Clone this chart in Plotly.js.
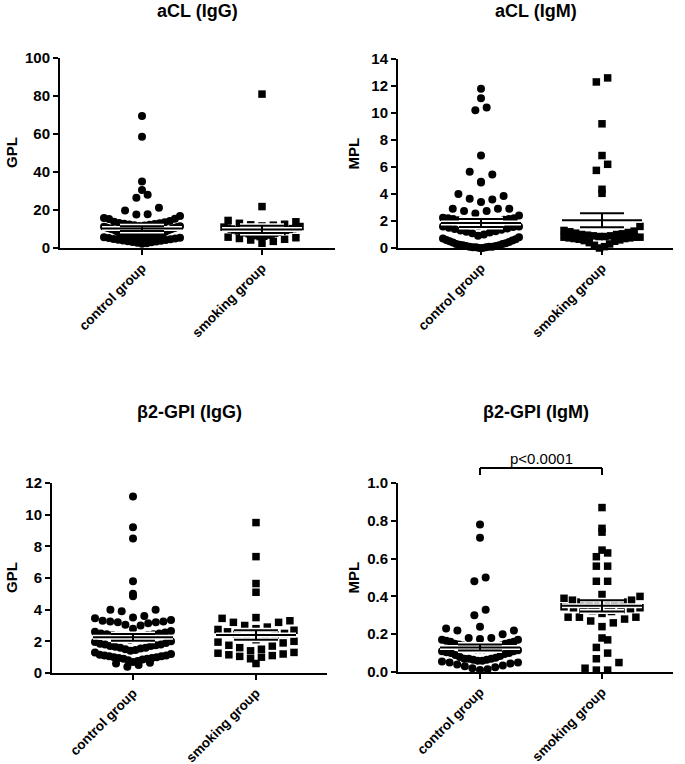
<!DOCTYPE html>
<html>
<head>
<meta charset="utf-8">
<script src="https://cdn.plot.ly/plotly-3.0.1.min.js"></script>
<style>html,body{margin:0;padding:0;background:#fff;}#chart{width:685px;height:764px;}</style>
</head>
<body>
<div id="chart"></div>
<script>
// ---------------- DATA ----------------
const categories = ['control group', 'smoking group'];
const panelTitles = ['aCL (IgG)', 'aCL (IgM)', 'β2-GPI (IgG)', 'β2-GPI (IgM)'];
const unitLabels = ['GPL', 'MPL', 'GPL', 'MPL'];

const aclIgG_control = [69.5, 58.5, 35.0, 30.5, 28.0, 26.5, 21.2, 19.8, 17.8, 17.6, 16.8, 15.8, 15.4, 15.2,
  14.2, 13.8, 13.5, 13.2, 13.0, 12.8, 12.6, 12.4, 12.2, 12.0, 11.9, 11.6, 11.4, 11.2, 11.0, 10.8, 10.6, 10.4,
  10.2, 10.0, 9.8, 9.6, 9.4, 9.0, 8.6, 8.2, 7.8, 7.6, 7.4, 7.2, 7.0, 7.0, 6.8, 6.8, 6.6, 6.6, 6.4, 6.4, 6.2,
  6.2, 6.0, 6.0, 5.8, 5.8, 5.6, 5.4, 5.2, 5.0, 4.8, 4.6, 4.4, 4.2, 4.0, 3.8, 3.6, 3.4, 3.2, 3.0, 2.8, 2.5, 2.2];
const aclIgG_smoking = [81.0, 21.8, 14.5, 13.8, 13.0, 12.5, 12.2, 12.0, 11.6, 11.3, 11.0, 10.8, 10.5, 10.2,
  10.0, 9.8, 9.5, 9.3, 9.0, 8.8, 8.5, 8.3, 8.0, 7.8, 7.5, 7.3, 7.0, 6.8, 6.5, 6.2, 6.0, 5.7, 5.4, 5.0, 4.6,
  4.2, 3.5, 2.5];
const aclIgG_mean = [10.2, 9.8];
const aclIgG_sem = [1.3, 1.9];
const aclIgG_ticks = [0, 20, 40, 60, 80, 100];

const aclIgM_control = [11.8, 11.1, 10.4, 10.2, 6.85, 5.65, 5.45, 4.9, 4.85, 4.0, 3.85, 3.65, 3.6, 3.4, 2.9,
  2.9, 2.9, 2.75, 2.75, 2.55, 2.4, 2.25, 2.2, 2.2, 2.15, 2.15, 2.1, 2.05, 2.0, 1.95, 1.9, 1.85, 1.8, 1.75, 1.7,
  1.65, 1.6, 1.6, 1.55, 1.5, 1.45, 1.4, 1.35, 1.3, 1.25, 1.2, 1.15, 1.1, 1.0, 0.9, 0.8, 0.7, 0.65, 0.6, 0.55,
  0.5, 0.45, 0.4, 0.35, 0.3, 0.3, 0.25, 0.2, 0.2, 0.15, 0.15, 0.1, 0.1, 0.1, 0.05, 0.05, 0.05, 0.0, 0.0];
const aclIgM_smoking = [12.6, 12.3, 9.2, 6.85, 6.2, 5.75, 4.35, 4.05, 1.6, 1.3, 1.25, 1.2, 1.15, 1.1, 1.05,
  1.0, 1.0, 0.95, 0.9, 0.9, 0.85, 0.85, 0.8, 0.8, 0.8, 0.75, 0.75, 0.7, 0.7, 0.65, 0.6, 0.55, 0.5, 0.4, 0.3,
  0.2, 0.1, 0.0];
const aclIgM_mean = [1.85, 2.05];
const aclIgM_sem = [0.3, 0.52];
const aclIgM_ticks = [0, 2, 4, 6, 8, 10, 12, 14];

const b2IgG_control = [11.15, 9.2, 8.5, 5.8, 5.0, 4.85, 4.0, 4.0, 3.9, 3.6, 3.5, 3.45, 3.35, 3.3, 3.25, 3.25,
  3.2, 3.2, 3.15, 3.05, 3.0, 2.8, 2.65, 2.6, 2.55, 2.5, 2.5, 2.45, 2.45, 2.4, 2.4, 2.35, 2.3, 2.3, 2.2, 2.1,
  2.0, 1.95, 1.9, 1.85, 1.8, 1.8, 1.75, 1.7, 1.7, 1.65, 1.6, 1.6, 1.55, 1.5, 1.45, 1.4, 1.3, 1.2, 1.15, 1.1,
  1.1, 1.05, 1.05, 1.0, 1.0, 0.95, 0.95, 0.9, 0.9, 0.85, 0.8, 0.75, 0.7, 0.65, 0.6, 0.5, 0.4];
const b2IgG_smoking = [9.5, 7.35, 5.65, 5.1, 3.5, 3.45, 3.3, 3.2, 3.2, 3.0, 2.9, 2.8, 2.75, 2.7, 2.6, 2.5,
  2.45, 2.4, 2.3, 2.2, 2.1, 2.0, 1.95, 1.9, 1.75, 1.7, 1.6, 1.5, 1.4, 1.3, 1.25, 1.2, 1.15, 1.1, 1.05, 1.0,
  0.9, 0.6];
const b2IgG_mean = [2.25, 2.4];
const b2IgG_sem = [0.22, 0.3];
const b2IgG_ticks = [0, 2, 4, 6, 8, 10, 12];

const b2IgM_control = [0.78, 0.71, 0.50, 0.48, 0.33, 0.30, 0.24, 0.23, 0.22, 0.22, 0.20, 0.18, 0.18, 0.175,
  0.17, 0.17, 0.165, 0.16, 0.16, 0.155, 0.15, 0.15, 0.145, 0.14, 0.14, 0.135, 0.13, 0.13, 0.13, 0.125, 0.12,
  0.12, 0.12, 0.115, 0.11, 0.11, 0.105, 0.10, 0.10, 0.095, 0.09, 0.085, 0.08, 0.075, 0.07, 0.07, 0.07, 0.065,
  0.065, 0.06, 0.06, 0.055, 0.05, 0.05, 0.045, 0.04, 0.035, 0.03, 0.025, 0.02, 0.015, 0.01];
const b2IgM_smoking = [0.87, 0.76, 0.74, 0.645, 0.63, 0.61, 0.56, 0.56, 0.48, 0.48, 0.41, 0.40, 0.39, 0.38,
  0.38, 0.37, 0.37, 0.36, 0.355, 0.35, 0.35, 0.345, 0.34, 0.34, 0.335, 0.33, 0.33, 0.325, 0.32, 0.31, 0.29,
  0.29, 0.29, 0.28, 0.27, 0.26, 0.24, 0.18, 0.17, 0.13, 0.10, 0.07, 0.05, 0.02, 0.01, 0.01];
const b2IgM_mean = [0.13, 0.35];
const b2IgM_sem = [0.016, 0.03];
const b2IgM_ticks = [0, 0.2, 0.4, 0.6, 0.8, 1.0];

const pValueText = 'p<0.0001';

// ---------------- LAYOUT GEOMETRY (pixels) ----------------
const W = 685, H = 764;
const FONT = 'Liberation Sans, Arial, Helvetica, sans-serif';
const panels = [
  {ctrl: aclIgG_control, smk: aclIgG_smoking, mean: aclIgG_mean, sem: aclIgG_sem, ticks: aclIgG_ticks, fmt: '',
   px: [60, 335], py: [58, 248], cx: 142, sx: 262, ymax: 100, titleY: 11},
  {ctrl: aclIgM_control, smk: aclIgM_smoking, mean: aclIgM_mean, sem: aclIgM_sem, ticks: aclIgM_ticks, fmt: '',
   px: [398, 673], py: [59, 248], cx: 481, sx: 602, ymax: 14, titleY: 11},
  {ctrl: b2IgG_control, smk: b2IgG_smoking, mean: b2IgG_mean, sem: b2IgG_sem, ticks: b2IgG_ticks, fmt: '',
   px: [52, 327], py: [483, 673], cx: 133, sx: 256, ymax: 12, titleY: 412},
  {ctrl: b2IgM_control, smk: b2IgM_smoking, mean: b2IgM_mean, sem: b2IgM_sem, ticks: b2IgM_ticks, fmt: '.1f',
   px: [398, 673], py: [483, 672], cx: 480, sx: 602, ymax: 1.0, titleY: 412}
];

const MARK = 8;       // marker diameter px
const STEP = 11.3;    // horizontal spacing between neighbours px
const BIN = 11;       // row height px
const MAXW = 76;      // max row width (centre to centre) px
const MEAN_HW = 40;   // half width of mean line px
const SEM_HW = 22;    // half width of SEM whisker px

function swarm(values, center, pxPerX, pxPerY) {
  const bins = new Map();
  values.forEach(v => {
    const b = Math.floor(v * pxPerY / BIN);
    if (!bins.has(b)) bins.set(b, []);
    bins.get(b).push(v);
  });
  const xs = [], ys = [];
  bins.forEach(arr => {
    arr.sort((a, b) => a - b);
    const n = arr.length;
    const sp = n > 1 ? Math.min(STEP, MAXW / (n - 1)) : STEP;
    arr.forEach((v, k) => {
      let slot;
      if (n % 2 === 1) slot = k === 0 ? 0 : (k % 2 === 1 ? (k + 1) / 2 : -k / 2);
      else { const m = Math.floor(k / 2); slot = (k % 2 === 0 ? -1 : 1) * (m + 0.5); }
      xs.push(center + slot * sp / pxPerX);
      ys.push(v);
    });
  });
  return {x: xs, y: ys};
}

const data = [];
const layout = {
  width: W, height: H, margin: {l: 0, r: 0, t: 0, b: 0},
  paper_bgcolor: '#fff', plot_bgcolor: 'rgba(0,0,0,0)', showlegend: false,
  font: {family: FONT, color: '#000'},
  annotations: [], shapes: []
};

panels.forEach((p, i) => {
  const n = i + 1;
  const xa = 'x' + (n === 1 ? '' : n), ya = 'y' + (n === 1 ? '' : n);
  const xKey = 'xaxis' + (n === 1 ? '' : n), yKey = 'yaxis' + (n === 1 ? '' : n);
  const pxPerX = (p.sx - p.cx);
  const xr = [-(p.cx - p.px[0]) / pxPerX, 1 + (p.px[1] - p.sx) / pxPerX];
  const pxPerY = (p.py[1] - p.py[0]) / p.ymax;

  layout[xKey] = {
    domain: [p.px[0] / W, p.px[1] / W], range: xr, anchor: ya,
    showgrid: false, zeroline: false, showline: true, linecolor: '#000', linewidth: 2,
    ticks: 'outside', ticklen: 5, tickwidth: 2, tickcolor: '#000',
    tickvals: [0, 1], ticktext: categories, tickangle: -45,
    tickfont: {family: FONT, size: 13.5, color: '#000', weight: 'bold'}, fixedrange: true
  };
  layout[yKey] = {
    domain: [1 - p.py[1] / H, 1 - p.py[0] / H], range: [0, p.ymax], anchor: xa,
    showgrid: false, zeroline: false, showline: true, linecolor: '#000', linewidth: 2,
    ticks: 'outside', ticklen: 5, tickwidth: 2, tickcolor: '#000',
    tickvals: p.ticks, tickformat: p.fmt,
    tickfont: {family: FONT, size: 15, color: '#000', weight: 'bold'}, fixedrange: true
  };

  [[p.ctrl, 0, 'circle', MARK], [p.smk, 1, 'square', MARK - 0.5]].forEach(([vals, c, sym, sz]) => {
    const s = swarm(vals, c, pxPerX, pxPerY);
    data.push({type: 'scatter', mode: 'markers', x: s.x, y: s.y, xaxis: xa, yaxis: ya,
      marker: {symbol: sym, size: sz, color: '#000', line: {width: 0}}, cliponaxis: false, hoverinfo: 'y'});
  });

  // mean & SEM
  [0, 1].forEach(c => {
    const m = p.mean[c], s = p.sem[c];
    const mw = MEAN_HW / pxPerX, sw = SEM_HW / pxPerX;
    const lx = [c - mw, c + mw, null, c - sw, c + sw, null, c - sw, c + sw, null, c, c];
    const ly = [m, m, null, m + s, m + s, null, m - s, m - s, null, m - s, m + s];
    data.push({type: 'scatter', mode: 'lines', x: lx, y: ly, xaxis: xa, yaxis: ya,
      line: {color: '#fff', width: 5}, hoverinfo: 'skip', cliponaxis: false});
    data.push({type: 'scatter', mode: 'lines', x: lx, y: ly, xaxis: xa, yaxis: ya,
      line: {color: '#000', width: 2}, hoverinfo: 'skip', cliponaxis: false});
  });

  // panel title
  layout.annotations.push({xref: 'paper', yref: 'paper', x: (p.px[0] + p.px[1]) / 2 / W, y: 1 - p.titleY / H,
    xanchor: 'center', yanchor: 'middle', showarrow: false, text: panelTitles[i],
    font: {family: FONT, size: 18, color: '#000', weight: 'bold'}});
  // y axis unit
  const ux = (i % 2 === 0) ? 11 : 353;
  layout.annotations.push({xref: 'paper', yref: 'paper', x: ux / W, y: 1 - (p.py[0] + p.py[1]) / 2 / H,
    xanchor: 'center', yanchor: 'middle', showarrow: false, text: unitLabels[i], textangle: -90,
    font: {family: FONT, size: 15, color: '#000', weight: 'bold'}});
});

// significance bracket on panel 4
const yb = 1 - 468 / H, yt = 1 - 475 / H;
layout.shapes.push(
  {type: 'line', xref: 'x4', yref: 'paper', x0: 0, x1: 1, y0: yb, y1: yb, line: {color: '#000', width: 2}},
  {type: 'line', xref: 'x4', yref: 'paper', x0: 0, x1: 0, y0: yb, y1: yt, line: {color: '#000', width: 2}},
  {type: 'line', xref: 'x4', yref: 'paper', x0: 1, x1: 1, y0: yb, y1: yt, line: {color: '#000', width: 2}}
);
layout.annotations.push({xref: 'x4', yref: 'paper', x: 0.5, y: 1 - 458 / H, xanchor: 'center', yanchor: 'middle',
  showarrow: false, text: pValueText, font: {family: FONT, size: 15, color: '#000'}});

Plotly.newPlot('chart', data, layout, {displayModeBar: false, staticPlot: true});
</script>
</body>
</html>
